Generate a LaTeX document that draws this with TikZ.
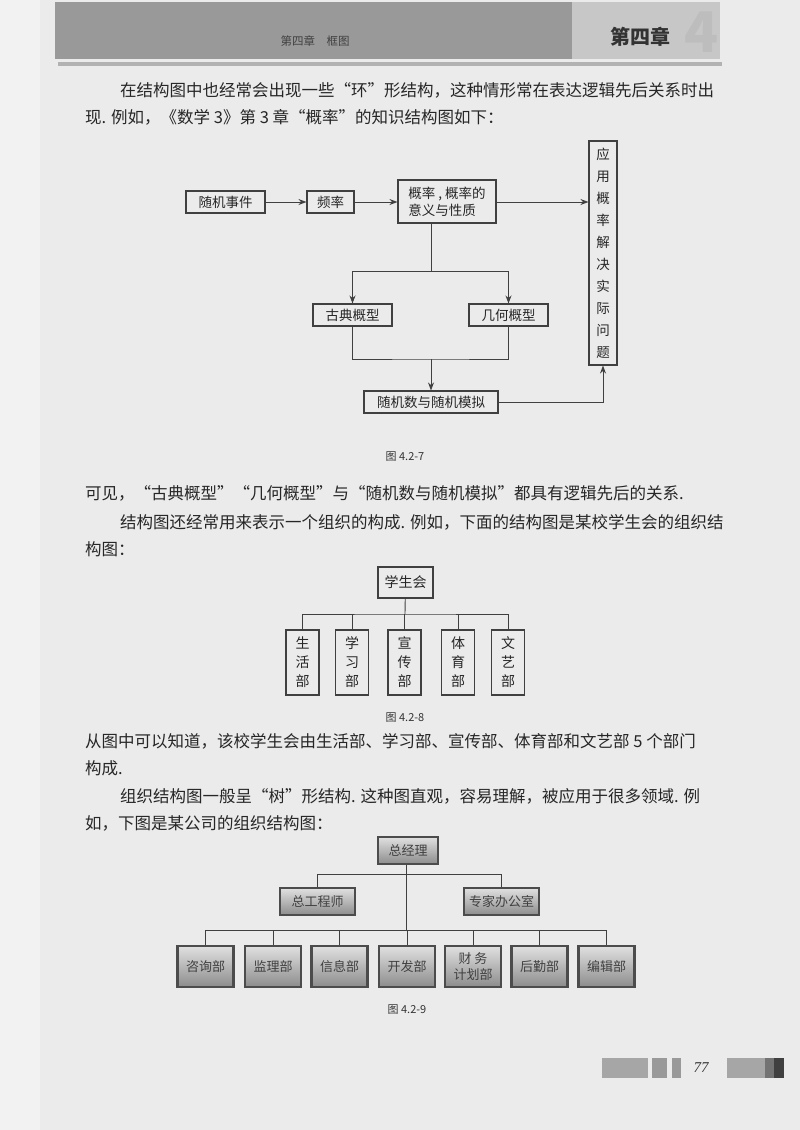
\documentclass[tikz,border=0pt]{standalone}
\usepackage{fontspec}
\setmainfont{Noto Sans CJK SC}
\newfontfamily\cjk{Noto Sans CJK SC}
\newfontfamily\lat{Liberation Serif}
\usetikzlibrary{arrows.meta}
\begin{document}
\begin{tikzpicture}[x=1pt,y=-1pt,
  body/.style={anchor=west,inner sep=0pt,font=\fontsize{16.5}{18}\selectfont,text=black!85},
  bx/.style={draw=black!75,line width=1.1pt,inner sep=0pt,font=\fontsize{13.5}{17}\selectfont,text=black!85},
  ln/.style={draw=black!75,line width=0.9pt},
  ar/.style={ln,-{Stealth[length=8pt,width=6pt]}},
  gb/.style={draw=black!70,line width=2.4pt,top color=black!12,bottom color=black!45,inner sep=0pt,font=\fontsize{13}{14}\selectfont,text=black!75},
  figcap/.style={font=\fontsize{11}{12}\selectfont,text=black!80}]
\useasboundingbox (0,0) rectangle (800,1130);
\fill[black!8] (0,0) rectangle (800,1130);
\fill[black!5] (0,0) rectangle (40,1130);
% header
\fill[black!30] (58,62) rectangle (722,66);
\fill[black!40] (55,2) rectangle (572,59);
\fill[black!22] (572,2) rectangle (720,59);
\node[font=\fontsize{56}{56}\selectfont\bfseries,text=black!26] (four) at (702,32) {4};
\node[font=\fontsize{20}{22}\selectfont\bfseries,text=black!80] (ch) at (640,37) {第四章};
\node[font=\fontsize{11.5}{12}\selectfont\itshape,text=black!75] (hd) at (315,41) {第四章\quad 框图};
% text
\node[body] (t1) at (120,90) {在结构图中也经常会出现一些“环”形结构，这种情形常在表达逻辑先后关系时出};
\node[body] (t2) at (85,117) {现. 例如，《数学 3》第 3 章“概率”的知识结构图如下：};
\node[body] (t3) at (85,493) {可见，“古典概型”“几何概型”与“随机数与随机模拟”都具有逻辑先后的关系.};
\node[body] (t4) at (120,522) {结构图还经常用来表示一个组织的构成. 例如，下面的结构图是某校学生会的组织结};
\node[body] (t5) at (85,549) {构图：};
\node[body] (t6) at (85,741) {从图中可以知道，该校学生会由生活部、学习部、宣传部、体育部和文艺部 5 个部门};
\node[body] (t7) at (85,768) {构成.};
\node[body] (t8) at (120,796) {组织结构图一般呈“树”形结构. 这种图直观，容易理解，被应用于很多领域. 例};
\node[body] (t9) at (85,823) {如，下图是某公司的组织结构图：};
% figure 4.2-7
\node[bx,minimum width=79pt,minimum height=22pt] (sj) at (225.5,202) {随机事件};
\node[bx,minimum width=47pt,minimum height=22pt] (pl) at (330.5,202) {频率};
\node[bx,minimum width=98pt,minimum height=43pt,align=left] (gl) at (447,201.5) {概率 , 概率的\\意义与性质};
\node[bx,minimum width=28pt,minimum height=224pt,align=center,font=\fontsize{13.5}{22}\selectfont] (yy) at (603,253) {应\\用\\概\\率\\解\\决\\实\\际\\问\\题};
\node[bx,minimum width=79pt,minimum height=22pt] (gd) at (352.5,315) {古典概型};
\node[bx,minimum width=79pt,minimum height=22pt] (jh) at (508.5,315) {几何概型};
\node[bx,minimum width=134pt,minimum height=22pt] (sm) at (431,402) {随机数与随机模拟};
\coordinate (s1) at (431,271);
\coordinate (s2) at (431,359);
\draw[ar] (sj) -- (pl);
\draw[ar] (pl) -- (gl.west|-pl);
\draw[ar] (gl.east|-pl) -- (yy.west|-pl);
\draw[ln] (gl.south-|s1) -- (s1);
\draw[ar] (s1) -| (gd);
\draw[ar] (s1) -| (jh);
\draw[ln] (gd) |- (s2) -| (jh);
\draw[ar] (s2) -- (sm);
\draw[ar] (sm) -| (yy);
\node[figcap] (c1) at (405,457) {图 4.2-7};
% figure 4.2-8
\node[bx,minimum width=55pt,minimum height=31pt,font=\fontsize{14}{17}\selectfont] (xs) at (405.5,582.5) {学生会};
\coordinate (h8) at (405,614);
\foreach \n/\x/\t in {a/302.5/生\\活\\部, b/352/学\\习\\部, c/404.5/宣\\传\\部, d/458/体\\育\\部, e/508/文\\艺\\部}{
  \node[bx,minimum width=33pt,minimum height=65pt,align=center,font=\fontsize{14}{19}\selectfont] (d\n) at (\x,662.5) {\t};
}
\draw[ln] (xs) -- (h8);
\draw[ln] (da) |- (h8) -| (de);
\foreach \n in {b,c,d} \draw[ln] (d\n) -- (d\n|-h8);
\node[figcap] (c2) at (405,718) {图 4.2-8};
% figure 4.2-9
\node[gb,minimum width=60pt,minimum height=27pt] (zj) at (408,850.5) {总经理};
\node[gb,minimum width=75pt,minimum height=27pt] (zg) at (317.5,901.5) {总工程师};
\node[gb,minimum width=75pt,minimum height=27pt] (zy) at (501.5,901.5) {专家办公室};
\coordinate (h9a) at (406,874);
\coordinate (h9b) at (406,930);
\draw[ln] (zj.south-|h9a) -- (h9b);
\draw[ln] (zg) |- (h9a) -| (zy);
\foreach \n/\x/\t in {1/205.5/咨询部, 2/273/监理部, 3/339.5/信息部, 4/407/开发部, 5/473/{财\ 务\\计划部}, 6/539.5/后勤部, 7/606.5/编辑部}{
  \node[gb,minimum width=56pt,minimum height=41pt,align=center,font=\fontsize{13}{16}\selectfont] (b\n) at (\x,966.5) {\t};
}
\draw[ln] (b1) |- (h9b) -| (b7);
\foreach \n in {2,3,4,5,6} \draw[ln] (b\n) -- (b\n|-h9b);
\node[figcap] (c3) at (407,1010) {图 4.2-9};
% footer
\fill[black!35] (602,1058) rectangle (648,1078);
\fill[black!40] (652,1058) rectangle (667,1078);
\fill[black!40] (672,1058) rectangle (681,1078);
\node[font=\lat\itshape\fontsize{15}{16}\selectfont,text=black!80] (pg) at (701,1068) {77};
\fill[black!35] (727,1058) rectangle (765,1078);
\fill[black!55] (765,1058) rectangle (774,1078);
\fill[black!75] (774,1058) rectangle (784,1078);
\end{tikzpicture}
\end{document}
